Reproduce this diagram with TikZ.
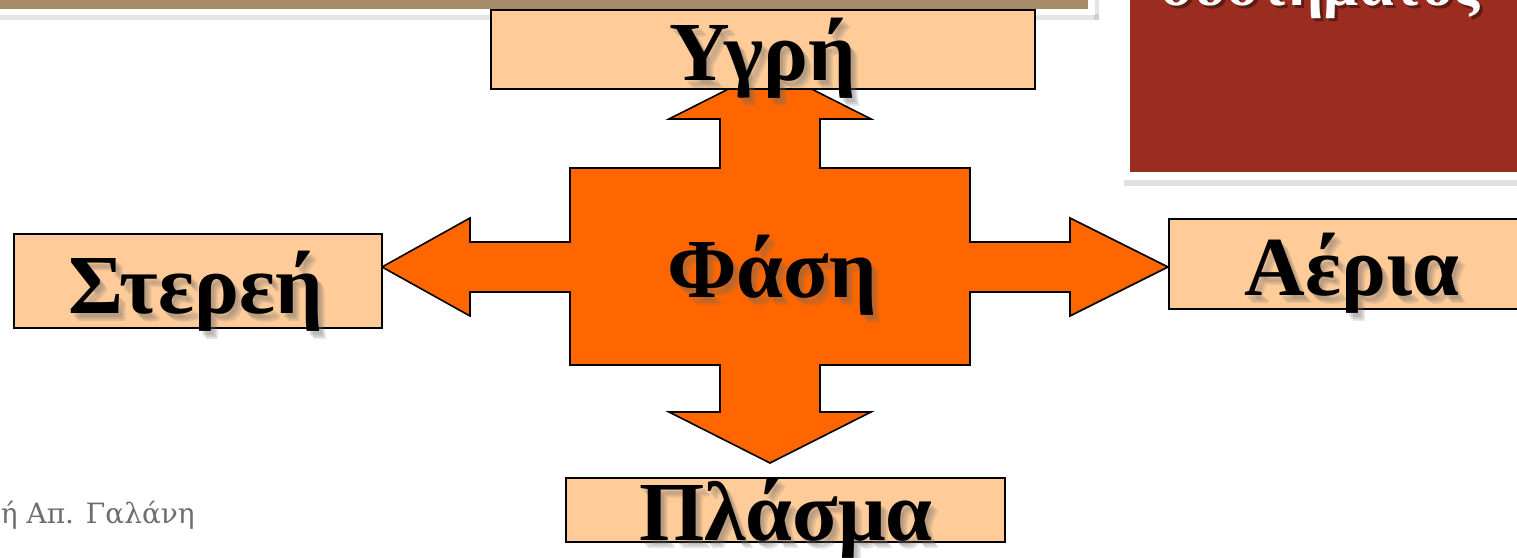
\documentclass[tikz,border=0pt]{standalone}
\usepackage{fontspec}
\setmainfont{Liberation Serif}
\newfontfamily\creditfont{DejaVu Serif}
\usetikzlibrary{calc}
\definecolor{peach}{HTML}{FFCC99}
\definecolor{orng}{HTML}{FF6600}
\definecolor{maroonbox}{HTML}{9A2D20}
\definecolor{tanbar}{HTML}{A58B6A}
\definecolor{credit}{HTML}{6E6E6E}
\begin{document}
\begin{tikzpicture}[x=1pt,y=-1pt,
  box/.style={draw=black, line width=1.6pt, fill=peach, rectangle, inner sep=0pt},
  big/.style={font=\fontsize{84}{84}\selectfont\bfseries, inner sep=0pt, anchor=base},
  bigshadow/.style={big, text=black!60, opacity=0.18},
  crossarrow/.style={draw=black, line width=1.6pt, fill=orng, line join=miter}
]
\useasboundingbox (0,0) rectangle (1517,557);
\clip (0,0) rectangle (1517,557);

% top-left bar (cropped frame)
\fill[black, opacity=0.10] (-5,14) rectangle (1099,20);
\fill[black, opacity=0.10] (1094,-5) rectangle (1099,20);
\fill[white] (-5,-5) rectangle (1095,15);
\fill[tanbar] (-5,-5) rectangle (1088,9);

% top-right title box (cropped)
\fill[black, opacity=0.12] (1124,179) rectangle (1525,186);
\fill[white] (1121,-5) rectangle (1525,180);
\fill[maroonbox] (1130,-5) rectangle (1525,172);
\node[font=\fontsize{62}{62}\selectfont\bfseries, text=black, opacity=0.4, inner sep=0pt, anchor=base] (titleshadow) at (1323,8) {συστήματος};
\node[font=\fontsize{62}{62}\selectfont\bfseries, text=white, inner sep=0pt, anchor=base] (title) at (1320,5) {συστήματος};

% credit text
\node[font=\creditfont\fontsize{28}{28}\selectfont, text=credit, inner sep=0pt, anchor=base east] (credit) at (195,523) {ή Απ. Γαλάνη};

% central cross arrow
\draw[crossarrow] (770,68) -- (871,119) -- (820,119) -- (820,168) -- (970,168) -- (970,242)
  -- (1070,242) -- (1070,218) -- (1168,267) -- (1070,316) -- (1070,292) -- (970,292)
  -- (970,365) -- (820,365) -- (820,412) -- (871,412) -- (770,463) -- (669,412)
  -- (720,412) -- (720,365) -- (570,365) -- (570,292) -- (470,292) -- (470,316)
  -- (382,267) -- (470,218) -- (470,242) -- (570,242) -- (570,168) -- (720,168)
  -- (720,119) -- (669,119) -- cycle;

% boxes
\node[box, minimum width=544pt, minimum height=79pt] (ygri) at (763,49.5) {};
\node[box, minimum width=368pt, minimum height=94pt] (sterei) at (198,281) {};
\node[box, minimum width=370pt, minimum height=90pt] (aeria) at (1354,264) {};
\node[box, minimum width=439pt, minimum height=64pt] (plasma) at (785.5,510) {};

% labels with soft shadows
\foreach \dx/\dy in {3/4,5/6,7/8}{
  \node[bigshadow] at (763+\dx,80+\dy) {Υγρή};
  \node[bigshadow] at (196+\dx,313+\dy) {Στερεή};
  \node[bigshadow] at (1352+\dx,295+\dy) {Αέρια};
  \node[bigshadow] at (772+\dx,297+\dy) {Φάση};
  \node[bigshadow] at (786+\dx,540+\dy) {Πλάσμα};
}
\node[big] (ygritxt) at (763,80) {Υγρή};
\node[big] (stereitxt) at (196,313) {Στερεή};
\node[big] (aeriatxt) at (1352,295) {Αέρια};
\node[big] (fasitxt) at (772,297) {Φάση};
\node[big] (plasmatxt) at (786,540) {Πλάσμα};
\end{tikzpicture}
\end{document}
